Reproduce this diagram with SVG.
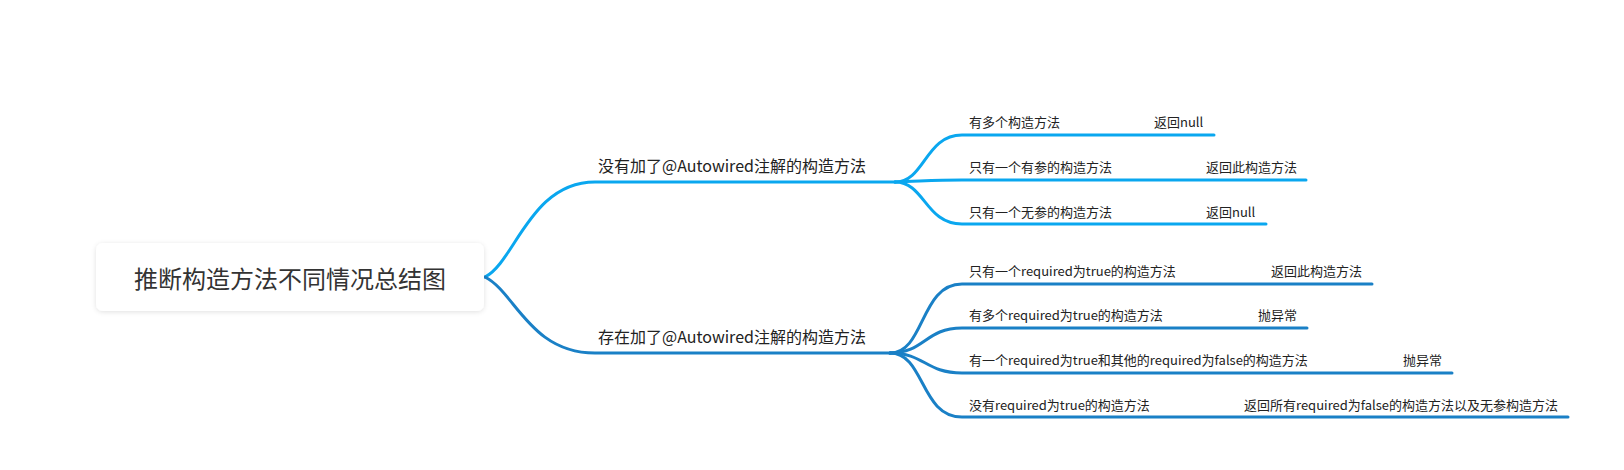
<svg xmlns="http://www.w3.org/2000/svg" width="1624" height="470" viewBox="0 0 1624 470">
<defs>
<filter id="sh" x="-10%" y="-30%" width="120%" height="160%">
<feDropShadow dx="0" dy="1" stdDeviation="2.5" flood-color="#000" flood-opacity="0.12"/>
</filter>
</defs>
<style>
text{font-family:"Noto Sans CJK SC","Microsoft YaHei",sans-serif;fill:#222}
.root{font-size:24px;fill:#333;text-anchor:middle}
.b1{font-size:16px}
.t{font-size:13px}
.c1{fill:none;stroke:#0aa7ef;stroke-width:3;stroke-linecap:round}
.c2{fill:none;stroke:#1a80c6;stroke-width:3;stroke-linecap:round}
</style>
<rect width="1624" height="470" fill="#fff"/>
<g id="connectors">
<path class="c1" d="M485,277 C515,262 530,182 595,182 L895,182"/>
<path class="c2" d="M485,277 C515,292 530,353 595,353 L890,353"/>
<path class="c1" d="M895,182 C925,182 925,135 962,135 L1214,135"/>
<path class="c1" d="M895,182 C925,181 935,180 962,180 L1306,180"/>
<path class="c1" d="M895,182 C925,182 925,224 962,224 L1266,224"/>
<path class="c2" d="M890,353 C925,353 920,284 962,284 L1372,284"/>
<path class="c2" d="M890,353 C925,353 925,328 962,328 L1307,328"/>
<path class="c2" d="M890,353 C925,353 925,373 962,373 L1452,373"/>
<path class="c2" d="M890,353 C925,353 920,417 962,417 L1568,417"/>
</g>
<g id="root">
<rect x="96" y="243" width="388" height="68" rx="7" fill="#fff" filter="url(#sh)"/>
<text class="root" x="290" y="288">推断构造方法不同情况总结图</text>
</g>
<g id="n1"><text class="b1" x="598" y="172">没有加了@Autowired注解的构造方法</text></g>
<g id="n2"><text class="b1" x="598" y="343">存在加了@Autowired注解的构造方法</text></g>
<g id="n1a"><text class="t" x="969" y="127">有多个构造方法</text></g>
<g id="n1a1"><text class="t" x="1154" y="127">返回null</text></g>
<g id="n1b"><text class="t" x="969" y="172">只有一个有参的构造方法</text></g>
<g id="n1b1"><text class="t" x="1206" y="172">返回此构造方法</text></g>
<g id="n1c"><text class="t" x="969" y="217">只有一个无参的构造方法</text></g>
<g id="n1c1"><text class="t" x="1206" y="217">返回null</text></g>
<g id="n2a"><text class="t" x="969" y="276">只有一个required为true的构造方法</text></g>
<g id="n2a1"><text class="t" x="1271" y="276">返回此构造方法</text></g>
<g id="n2b"><text class="t" x="969" y="320">有多个required为true的构造方法</text></g>
<g id="n2b1"><text class="t" x="1258" y="320">抛异常</text></g>
<g id="n2c"><text class="t" x="969" y="365">有一个required为true和其他的required为false的构造方法</text></g>
<g id="n2c1"><text class="t" x="1403" y="365">抛异常</text></g>
<g id="n2d"><text class="t" x="969" y="410">没有required为true的构造方法</text></g>
<g id="n2d1"><text class="t" x="1244" y="410">返回所有required为false的构造方法以及无参构造方法</text></g>
</svg>
